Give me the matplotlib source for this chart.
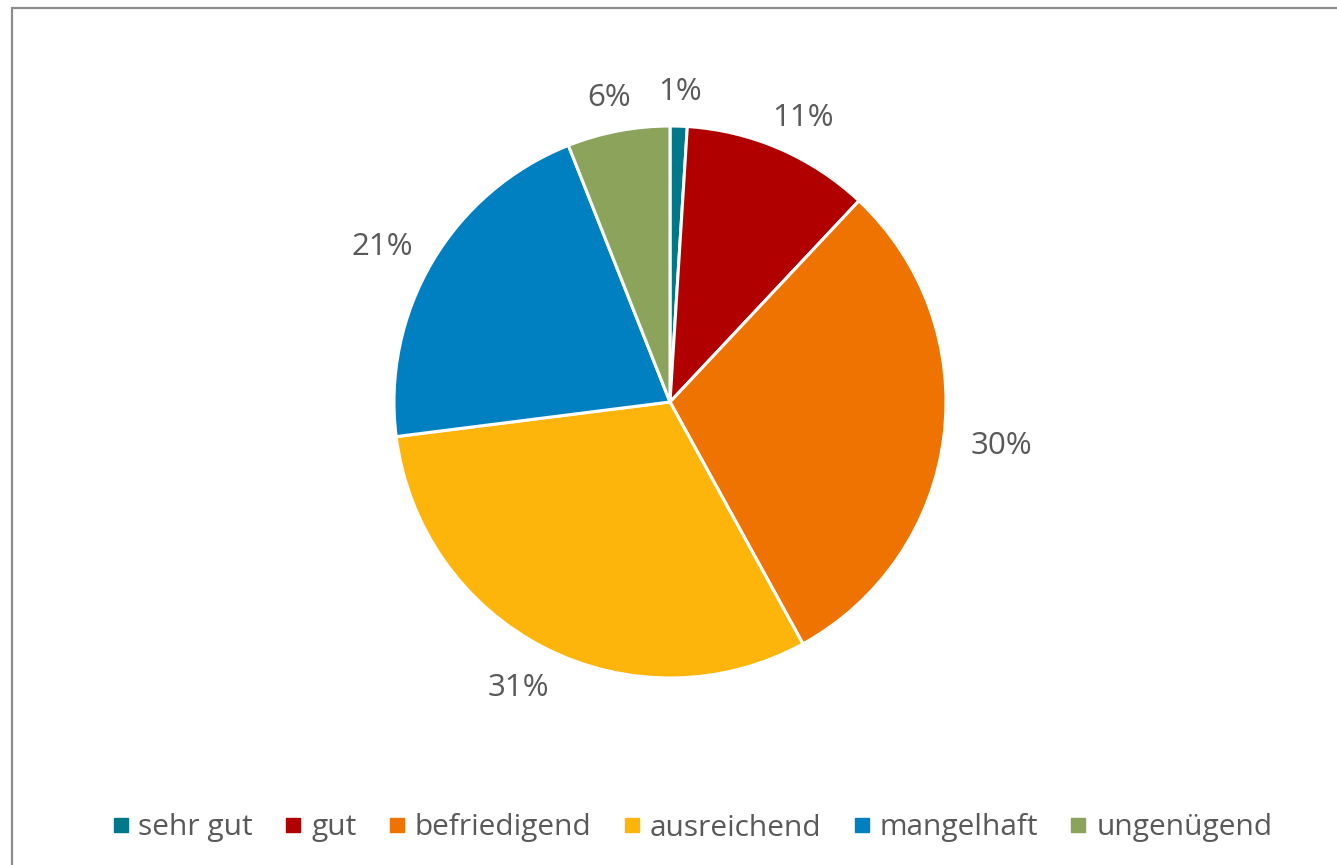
import numpy as np
import matplotlib
matplotlib.use("Agg")
import matplotlib.pyplot as plt
from matplotlib.patches import Rectangle
from matplotlib.lines import Line2D

categories = ["sehr gut", "gut", "befriedigend", "ausreichend", "mangelhaft", "ungenügend"]
values = [1, 11, 30, 31, 21, 6]
colors = ["#00788A", "#B00000", "#EE7300", "#FDB50B", "#0080C0", "#8BA35A"]

plt.rcParams['font.family'] = ['Open Sans', 'DejaVu Sans']
W, H = 1337, 865
fig = plt.figure(figsize=(W/100, H/100), dpi=100)

cx, cy, R = 670, 402, 276
lim = 1.4
side = 2 * lim * R
ax = fig.add_axes([(cx - side/2)/W, 1 - (cy + side/2)/H, side/W, side/H])
wedges, _ = ax.pie(values, colors=colors, startangle=90, counterclock=False,
                   wedgeprops=dict(edgecolor="white", linewidth=2.2))
ax.set_xlim(-lim, lim); ax.set_ylim(-lim, lim)
ax.set_aspect("auto")
ax.axis("off")

# labels placed like Excel: bounding box kept a fixed gap outside the rim
renderer = fig.canvas.get_renderer()
gap = 0.1
px_per_unit = R
for w, v in zip(wedges, values):
    th = np.deg2rad((w.theta1 + w.theta2) / 2)
    c, s = np.cos(th), np.sin(th)
    t = ax.text(0, 0, f"{v}%", fontsize=22.5, color="#595959", ha="center", va="center")
    bb = t.get_window_extent(renderer)
    hw = bb.width / 2 / px_per_unit
    hh = bb.height / 2 / px_per_unit * 0.75
    r = 1 + gap
    t.set_position((r * c + hw * c, r * s + hh * s - 5 / px_per_unit))

fig.patches.append(Rectangle((12/W, -0.1), 1.2, 1 - 8/H + 0.1, transform=fig.transFigure,
                             fill=False, edgecolor="#8c8c8c", linewidth=1.6))

handles = [Line2D([], [], marker="s", linestyle="", markersize=10, color=c) for c in colors]
fig.legend(handles, categories, loc="center", bbox_to_anchor=(692/W, 1 - 828/H), ncol=6,
           frameon=False, fontsize=21.5, labelcolor="#595959", handlelength=0.6,
           handletextpad=0.3, columnspacing=1.05)

fig.savefig("out.png", dpi=100)
